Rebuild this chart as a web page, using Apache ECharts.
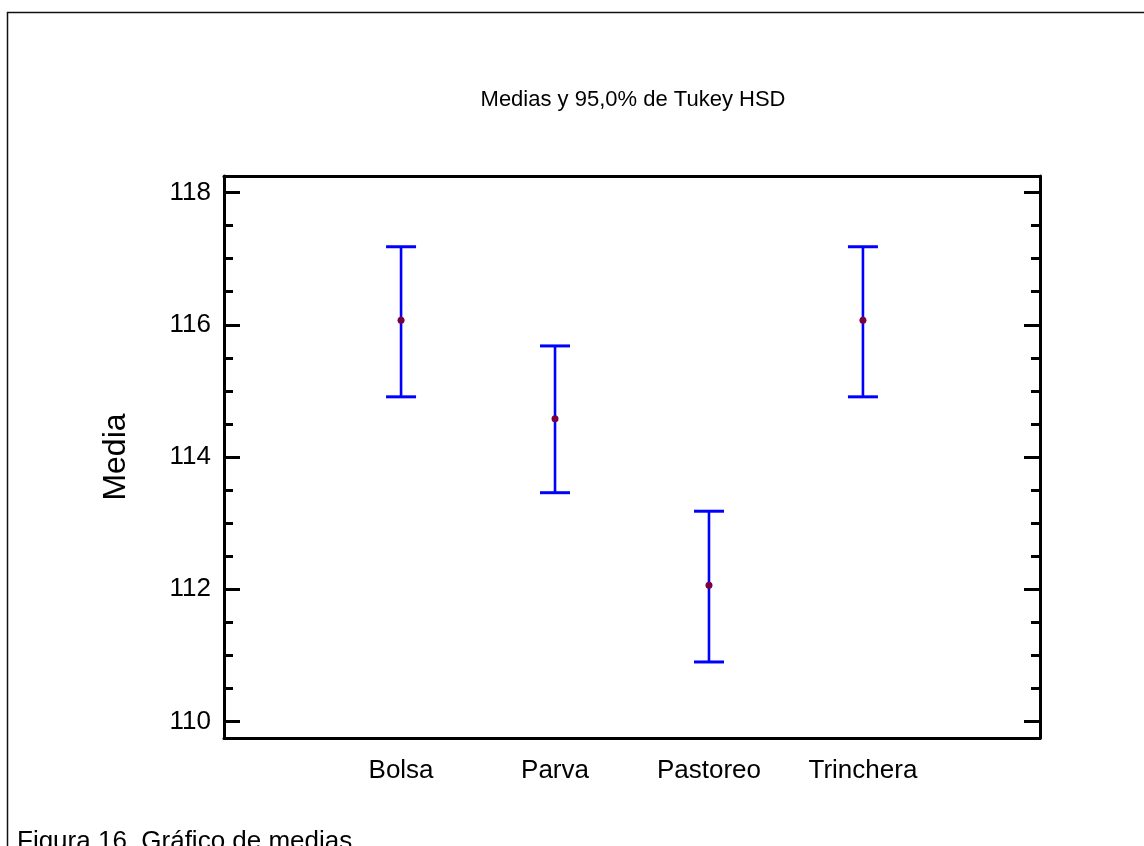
<!DOCTYPE html>
<html>
<head>
<meta charset="utf-8">
<script src="https://cdn.jsdelivr.net/npm/echarts@6/dist/echarts.min.js"></script>
<style>
html,body{margin:0;padding:0;background:#fff;}
#chart{width:1144px;height:846px;}
</style>
</head>
<body>
<div id="chart"></div>
<script>
// ---- data ----
var categories = ['Bolsa', 'Parva', 'Pastoreo', 'Trinchera'];
var means = [116.07, 114.58, 112.06, 116.07];
var lower = [114.91, 113.46, 110.90, 114.91];
var upper = [117.18, 115.68, 113.18, 117.18];
var yMajorTicks = [110, 112, 114, 116, 118];
var yMinorTicks = [110.5, 111, 111.5, 112.5, 113, 113.5, 114.5, 115, 115.5, 116.5, 117, 117.5];
var titleText = 'Medias y 95,0% de Tukey HSD';
var yName = 'Media';
var captionText = 'Figura 16. Gráfico de medias';

var FONT = '"Liberation Sans", Arial, sans-serif';
var data = categories.map(function (c, i) { return [i, lower[i], means[i], upper[i]]; });

var chart = echarts.init(document.getElementById('chart'));
var yMin = 109.75, yMax = 118.25;
var lineStyleAxis = { color: '#000', width: 3 };

chart.setOption({
  animation: false,
  backgroundColor: '#fff',
  title: {
    text: titleText,
    left: 628, top: 84, textAlign: 'center',
    textStyle: { fontFamily: FONT, fontSize: 22, fontWeight: 'normal', color: '#000' }
  },
  grid: { left: 224, right: 104, top: 176, bottom: 108, containLabel: false },
  xAxis: [
    {
      type: 'value', position: 'bottom', min: -1.15, max: 4.15,
      axisLine: { show: true, onZero: false, lineStyle: lineStyleAxis },
      axisTick: { show: false },
      splitLine: { show: false },
      axisLabel: {
        customValues: [0, 1, 2, 3],
        formatter: function (v) { return categories[Math.round(v)] || ''; },
        fontFamily: FONT, fontSize: 26, color: '#000', margin: 20
      }
    },
    {
      type: 'value', position: 'top', min: -1.15, max: 4.15,
      axisLine: { show: true, onZero: false, lineStyle: lineStyleAxis },
      axisTick: { show: false }, axisLabel: { show: false }, splitLine: { show: false }
    }
  ],
  yAxis: [
    {
      type: 'value', position: 'left', min: yMin, max: yMax,
      name: yName, nameLocation: 'middle', nameRotate: 90, nameGap: 92,
      nameTextStyle: { fontFamily: FONT, fontSize: 32, color: '#000' },
      axisLine: { show: true, onZero: false, lineStyle: lineStyleAxis },
      axisTick: { show: true, inside: true, length: 16, customValues: yMajorTicks, lineStyle: { color: '#000', width: 3 } },
      axisLabel: { customValues: yMajorTicks, fontFamily: FONT, fontSize: 26, color: '#000', margin: 13 },
      splitLine: { show: false }
    },
    {
      type: 'value', position: 'left', min: yMin, max: yMax,
      axisLine: { show: false, onZero: false },
      axisTick: { show: true, inside: true, length: 9, customValues: yMinorTicks, lineStyle: { color: '#000', width: 3 } },
      axisLabel: { show: false }, splitLine: { show: false }
    },
    {
      type: 'value', position: 'right', min: yMin, max: yMax,
      axisLine: { show: true, onZero: false, lineStyle: lineStyleAxis },
      axisTick: { show: true, inside: true, length: 16, customValues: yMajorTicks, lineStyle: { color: '#000', width: 3 } },
      axisLabel: { show: false }, splitLine: { show: false }
    },
    {
      type: 'value', position: 'right', min: yMin, max: yMax,
      axisLine: { show: false, onZero: false },
      axisTick: { show: true, inside: true, length: 9, customValues: yMinorTicks, lineStyle: { color: '#000', width: 3 } },
      axisLabel: { show: false }, splitLine: { show: false }
    }
  ],
  graphic: [
    {
      type: 'rect', silent: true, z: -1,
      shape: { x: 7.5, y: 12.5, width: 1200, height: 900 },
      style: { fill: 'none', stroke: '#111', lineWidth: 1.5 }
    },
    {
      type: 'text', left: 17, top: 829, silent: true,
      style: { text: captionText, fontFamily: FONT, fontSize: 26, fill: '#000' }
    }
  ],
  series: [{
    type: 'custom',
    xAxisIndex: 0, yAxisIndex: 0,
    data: data,
    encode: { x: 0, y: [1, 2, 3] },
    renderItem: function (params, api) {
      var x = api.value(0);
      var lo = api.coord([x, api.value(1)]);
      var mid = api.coord([x, api.value(2)]);
      var hi = api.coord([x, api.value(3)]);
      var hw = 15;
      var blue = { stroke: '#0000ff', lineWidth: 3 };
      return {
        type: 'group',
        children: [
          { type: 'line', shape: { x1: hi[0], y1: hi[1], x2: lo[0], y2: lo[1] }, style: { stroke: '#0000ff', lineWidth: 2.6 } },
          { type: 'line', shape: { x1: hi[0] - hw, y1: hi[1], x2: hi[0] + hw, y2: hi[1] }, style: blue },
          { type: 'line', shape: { x1: lo[0] - hw, y1: lo[1], x2: lo[0] + hw, y2: lo[1] }, style: blue },
          { type: 'circle', shape: { cx: mid[0], cy: mid[1], r: 3.5 }, style: { fill: '#7a0040' } }
        ]
      };
    }
  }]
});
</script>
</body>
</html>
